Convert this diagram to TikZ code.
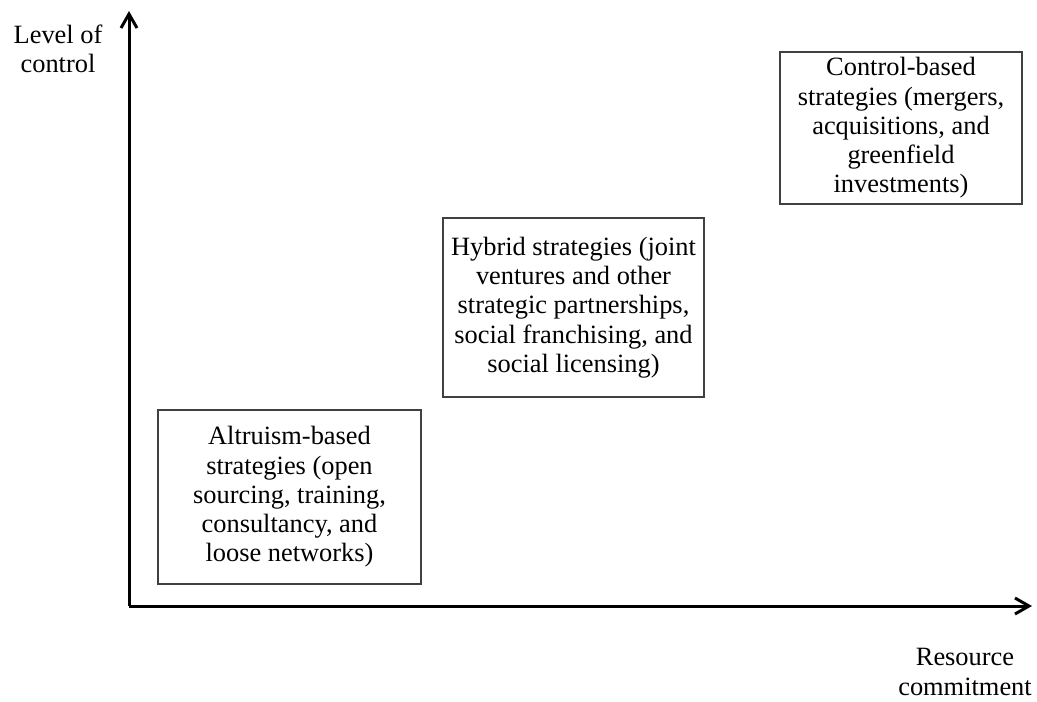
\documentclass[tikz,border=0pt]{standalone}
\usepackage{fontspec}
\setmainfont{Liberation Serif}
\usetikzlibrary{arrows.meta}
\begin{document}
\begin{tikzpicture}[x=1pt,y=-1pt,
  box/.style={draw=black!75,line width=1.2pt,align=center,inner sep=0pt,
    font=\fontsize{26.4}{29.3}\selectfont},
  lab/.style={align=center,inner sep=0pt,font=\fontsize{26.4}{29.3}\selectfont},
  axis/.style={line width=3pt,-{Straight Barb[length=14pt,width=16pt,line width=3pt]}}]
\useasboundingbox (0,0) rectangle (1037,702);
\coordinate (o) at (129,606);
\coordinate (ytip) at (129,11);
\coordinate (xtip) at (1032,606);
\draw[axis] (o) -- (ytip);
\draw[axis] (o) -- (xtip);
\node[lab] (ylab) at (58,49) {Level of\\control};
\node[lab] (xlab) at (965,672) {Resource\\commitment};
\node[box,minimum width=263pt,minimum height=174pt] (alt) at (289.5,497)
  {Altruism-based\\strategies (open\\sourcing, training,\\consultancy, and\\loose networks)};
\node[box,minimum width=261pt,minimum height=179pt] (hyb) at (573.5,307.5)
  {Hybrid strategies (joint\\ventures and other\\strategic partnerships,\\social franchising, and\\social licensing)};
\node[box,minimum width=242pt,minimum height=152pt] (ctl) at (901,128)
  {Control-based\\strategies (mergers,\\acquisitions, and\\greenfield\\investments)};
\end{tikzpicture}
\end{document}
